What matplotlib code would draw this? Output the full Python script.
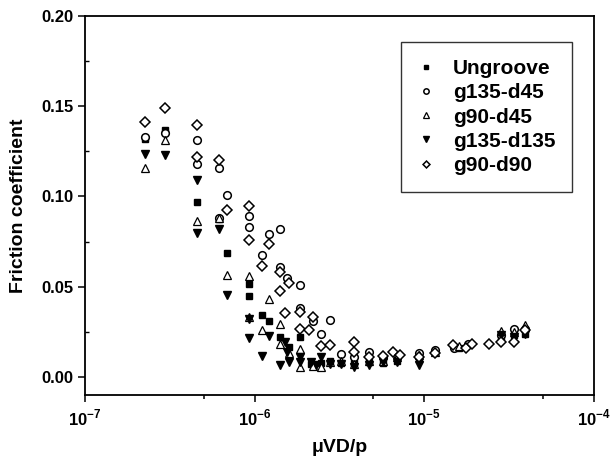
import matplotlib
matplotlib.use("Agg")
import matplotlib.pyplot as plt
from matplotlib.ticker import NullFormatter

plt.rcParams['font.family'] = ['Liberation Sans', 'DejaVu Sans']
plt.rcParams['font.weight'] = 'bold'
plt.rcParams['mathtext.fontset'] = 'custom'
plt.rcParams['mathtext.rm'] = 'Liberation Sans:bold'
plt.rcParams['mathtext.bf'] = 'Liberation Sans:bold'

# values
ungroove_x = [2.26e-7, 2.97e-7, 4.6e-7, 6.13e-7, 6.85e-7, 9.2e-7, 9.2e-7, 1.107e-6, 1.216e-6, 1.42e-6,
              1.6e-6, 1.84e-6, 2.15e-6, 2.45e-6, 2.78e-6, 3.24e-6, 3.83e-6, 4.75e-6, 5.7e-6, 6.9e-6,
              9.3e-6, 1.155e-5, 1.6e-5, 2.83e-5, 3.37e-5, 3.93e-5]
ungroove_y = [0.132, 0.137, 0.097, 0.0875, 0.0686, 0.0516, 0.0448, 0.0345, 0.0308, 0.0221,
              0.0166, 0.0221, 0.0074, 0.0078, 0.009, 0.0078, 0.0078, 0.0082, 0.0078, 0.009,
              0.010, 0.014, 0.016, 0.022, 0.023, 0.024]

g135_d45_x = [2.26e-7, 2.97e-7, 4.6e-7, 4.6e-7, 6.13e-7, 6.13e-7, 6.85e-7, 9.2e-7, 9.2e-7, 1.107e-6,
              1.216e-6, 1.42e-6, 1.42e-6, 1.55e-6, 1.84e-6, 1.84e-6, 2.2e-6, 2.45e-6, 2.78e-6, 3.24e-6,
              3.83e-6, 4.75e-6, 5.7e-6, 6.9e-6, 9.3e-6, 1.155e-5, 1.5e-5, 1.8e-5, 2.83e-5, 3.37e-5, 3.93e-5]
g135_d45_y = [0.133, 0.135, 0.131, 0.118, 0.116, 0.088, 0.1008, 0.0894, 0.0828, 0.0673,
              0.079, 0.082, 0.061, 0.055, 0.051, 0.038, 0.031, 0.024, 0.0313, 0.0129,
              0.011, 0.0138, 0.011, 0.012, 0.0135, 0.0147, 0.016, 0.018, 0.023, 0.0264, 0.0267]

g90_d45_x = [2.26e-7, 2.97e-7, 4.6e-7, 6.13e-7, 6.85e-7, 9.2e-7, 9.2e-7, 1.107e-6, 1.216e-6, 1.42e-6,
             1.42e-6, 1.6e-6, 1.84e-6, 1.84e-6, 2.2e-6, 2.45e-6, 2.78e-6, 3.24e-6, 3.83e-6, 4.75e-6,
             5.7e-6, 6.9e-6, 9.3e-6, 1.155e-5, 1.6e-5, 2.83e-5, 3.37e-5, 3.93e-5]
g90_d45_y = [0.116, 0.131, 0.0866, 0.088, 0.0562, 0.0558, 0.033, 0.0258, 0.0433, 0.0295,
             0.0184, 0.013, 0.0157, 0.0055, 0.006, 0.0055, 0.008, 0.009, 0.007, 0.009,
             0.009, 0.011, 0.012, 0.014, 0.017, 0.0253, 0.025, 0.0286]

g135_d135_x = [2.26e-7, 2.97e-7, 4.6e-7, 4.6e-7, 6.13e-7, 6.85e-7, 9.2e-7, 9.2e-7, 1.107e-6, 1.216e-6,
               1.42e-6, 1.52e-6, 1.55e-6, 1.6e-6, 1.84e-6, 1.84e-6, 2.15e-6, 2.3e-6, 2.45e-6, 2.78e-6,
               3.24e-6, 3.83e-6, 4.75e-6, 5.7e-6, 6.9e-6, 9.3e-6, 2.83e-5, 3.37e-5, 3.93e-5]
g135_d135_y = [0.1235, 0.123, 0.109, 0.080, 0.082, 0.0455, 0.032, 0.0216, 0.0114, 0.0227,
               0.0068, 0.0194, 0.0138, 0.0083, 0.011, 0.0083, 0.0083, 0.0065, 0.011, 0.0074,
               0.0074, 0.0055, 0.0065, 0.008, 0.0085, 0.0068, 0.023, 0.022, 0.024]

g90_d90_x = [2.26e-7, 2.97e-7, 4.6e-7, 4.6e-7, 6.13e-7, 6.85e-7, 9.2e-7, 9.2e-7, 1.107e-6, 1.216e-6,
             1.42e-6, 1.42e-6, 1.5e-6, 1.6e-6, 1.84e-6, 1.84e-6, 2.1e-6, 2.2e-6, 2.45e-6, 2.78e-6,
             3.83e-6, 3.83e-6, 4.75e-6, 5.7e-6, 6.5e-6, 7.2e-6, 9.3e-6, 1.155e-5, 1.47e-5, 1.75e-5,
             1.91e-5, 2.4e-5, 2.83e-5, 3.37e-5, 3.93e-5]
g90_d90_y = [0.1414, 0.149, 0.1397, 0.122, 0.12, 0.0927, 0.0949, 0.0756, 0.0617, 0.0734,
             0.058, 0.0474, 0.0356, 0.052, 0.0267, 0.036, 0.0258, 0.033, 0.0171, 0.0175,
             0.0194, 0.014, 0.011, 0.0115, 0.0138, 0.012, 0.011, 0.0135, 0.0175, 0.016,
             0.0185, 0.018, 0.0194, 0.0194, 0.026]

xticks = [1e-7, 1e-6, 1e-5, 1e-4]
xtick_labels = [r'$10^{-7}$', r'$10^{-6}$', r'$10^{-5}$', r'$10^{-4}$']
xminor = [5e-7, 5e-6, 5e-5]
yticks = [0.00, 0.05, 0.10, 0.15, 0.20]
ytick_labels = ['0.00', '0.05', '0.10', '0.15', '0.20']
yminor = [0.025, 0.075, 0.125, 0.175]

fig = plt.figure(figsize=(6.14, 4.68), dpi=100)
ax = fig.add_axes([0.1384, 0.156, 0.829, 0.81])

ax.plot(ungroove_x, ungroove_y, 's', ms=5, mfc='black', mec='black', mew=1.0, label='Ungroove')
ax.plot(g135_d45_x, g135_d45_y, 'o', ms=5.5, mfc='white', mec='black', mew=1.1, label='g135-d45')
ax.plot(g90_d45_x, g90_d45_y, '^', ms=5.5, mfc='white', mec='black', mew=0.9, label='g90-d45')
ax.plot(g135_d135_x, g135_d135_y, 'v', ms=6, mfc='black', mec='black', mew=1.0, label='g135-d135')
ax.plot(g90_d90_x, g90_d90_y, 'D', ms=5, mfc='white', mec='black', mew=1.1, label='g90-d90')

ax.set_xscale('log')
ax.set_xlim(1e-7, 1e-4)
ax.set_ylim(-0.01, 0.20)
ax.set_xticks(xticks, xtick_labels)
ax.set_xticks(xminor, minor=True)
ax.xaxis.set_minor_formatter(NullFormatter())
ax.set_yticks(yticks, ytick_labels)
ax.set_yticks(yminor, minor=True)

ax.tick_params(axis='x', which='both', direction='out', labelsize=12, width=1.1)
ax.tick_params(axis='x', which='major', length=5, pad=4)
ax.tick_params(axis='x', which='minor', length=3)
ax.tick_params(axis='y', which='major', direction='out', length=5, width=1.1, labelsize=12)
ax.tick_params(axis='y', which='minor', direction='in', length=3, width=1.0)
for sp in ax.spines.values():
    sp.set_linewidth(1.3)

ax.set_xlabel('μVD/p', fontsize=14, fontweight='bold', labelpad=8)
ax.set_ylabel('Friction coefficient', fontsize=14, fontweight='bold', labelpad=10)

leg = ax.legend(loc='upper right', bbox_to_anchor=(0.957, 0.93), fontsize=15, markerscale=0.7,
                frameon=True, fancybox=False, edgecolor='black', handlelength=0.8,
                handletextpad=0.9, labelspacing=0.25, borderpad=0.8, borderaxespad=0)
leg.get_frame().set_linewidth(1.0)
for t in leg.get_texts():
    t.set_fontweight('bold')

fig.savefig('out.png', dpi=100)
